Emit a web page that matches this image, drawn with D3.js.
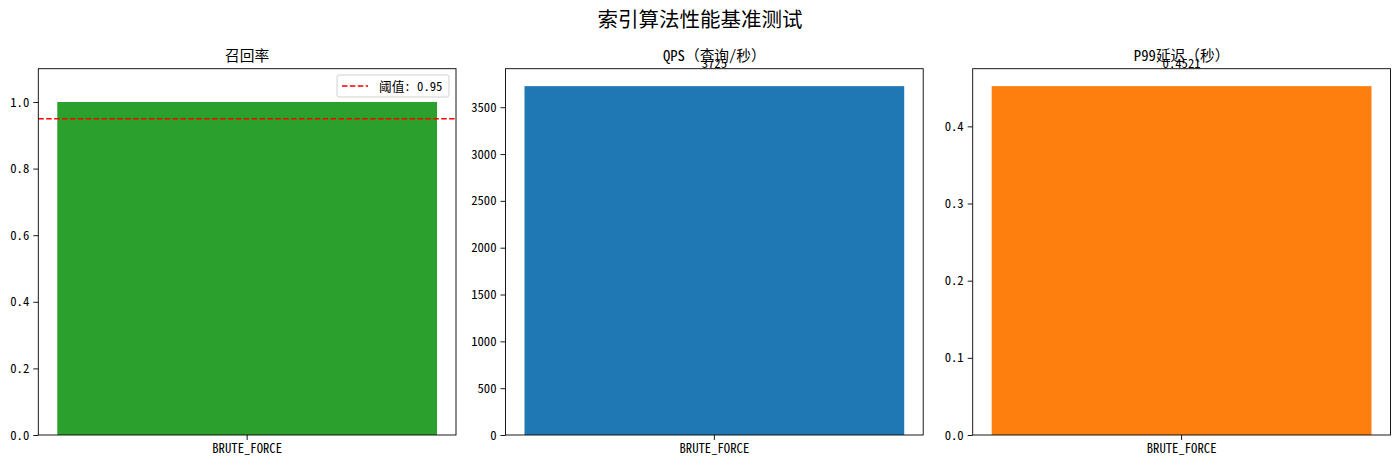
<!DOCTYPE html>
<html><head><meta charset="utf-8">
<script src="https://cdn.jsdelivr.net/npm/d3@7"></script>
<style>
body{margin:0;background:#fff;}
text{font-family:"Noto Sans Mono CJK SC","Noto Sans CJK SC","DejaVu Sans Mono",monospace;}
</style></head>
<body>
<svg id="c" width="1400" height="465"></svg>
<script>
const suptitle = "索引算法性能基准测试";
const categories = ["BRUTE_FORCE"];
const recallValues = [1.0];
const qpsValues = [3725];
const p99Values = [0.4521];
const threshold = 0.95;
const thresholdLabel = "阈值: 0.95";
const panelTitles = ["召回率", "QPS（查询/秒）", "P99延迟（秒）"];
const recallTicks = [0.0, 0.2, 0.4, 0.6, 0.8, 1.0];
const qpsTicks = [0, 500, 1000, 1500, 2000, 2500, 3000, 3500];
const p99Ticks = [0.0, 0.1, 0.2, 0.3, 0.4];

const svg = d3.select("#c");
const fontCJK = '"Noto Sans Mono CJK SC","Noto Sans CJK SC","DejaVu Sans Mono",monospace';

svg.append("text").attr("x", 700).attr("y", 27).attr("text-anchor", "middle")
  .attr("font-size", 20.5).attr("fill", "#000").text(suptitle);

const plotTop = 68.7, plotBottom = 435;
const panels = [
  {left: 38.3, right: 456, values: recallValues, ymax: 1.1, ticks: recallTicks, fmt: d3.format(".1f"), color: "#2ca02c", title: panelTitles[0], labels: false, thresh: true},
  {left: 505.5, right: 923.2, values: qpsValues, ymax: qpsValues[0] * 1.05, ticks: qpsTicks, fmt: d3.format("d"), color: "#1f77b4", title: panelTitles[1], labels: true, lfmt: d => String(d)},
  {left: 972.7, right: 1390.5, values: p99Values, ymax: p99Values[0] * 1.05, ticks: p99Ticks, fmt: d3.format(".1f"), color: "#ff7f0e", title: panelTitles[2], labels: true, lfmt: d => d.toFixed(4)}
];

panels.forEach(p => {
  const g = svg.append("g");
  const xl = d3.scaleLinear().domain([-0.44, 0.44]).range([p.left, p.right]);
  const x = d3.scaleBand().domain(categories).range([xl(-0.5), xl(0.5)]).paddingInner(0.2).paddingOuter(0.1);
  const y = d3.scaleLinear().domain([0, p.ymax]).range([plotBottom, plotTop]);

  g.selectAll("rect.bar").data(p.values).enter().append("rect")
    .attr("x", (d, i) => x(categories[i]))
    .attr("width", x.bandwidth())
    .attr("y", d => y(d))
    .attr("height", d => y(0) - y(d))
    .attr("fill", p.color);

  if (p.thresh) {
    g.append("line").attr("x1", p.left).attr("x2", p.right)
      .attr("y1", y(threshold)).attr("y2", y(threshold))
      .attr("stroke", "red").attr("stroke-width", 1.5).attr("stroke-dasharray", "5.5,2.4");
  }

  const ya = g.append("g").attr("transform", `translate(${p.left},0)`)
    .call(d3.axisLeft(y).tickValues(p.ticks).tickFormat(p.fmt).tickSize(5).tickPadding(4));
  ya.select(".domain").remove();
  ya.selectAll("text").attr("font-size", 12.7).attr("fill", "#000").style("font-family", fontCJK);
  ya.selectAll("line").attr("stroke", "#000").attr("stroke-width", 0.9);

  const xa = g.append("g").attr("transform", `translate(0,${plotBottom})`)
    .call(d3.axisBottom(x).tickSize(5).tickPadding(4));
  xa.select(".domain").remove();
  xa.selectAll("text").attr("font-size", 12.7).attr("fill", "#000").style("font-family", fontCJK);
  xa.selectAll("line").attr("stroke", "#000").attr("stroke-width", 0.9);

  g.append("rect").attr("x", p.left).attr("y", plotTop).attr("width", p.right - p.left).attr("height", plotBottom - plotTop)
    .attr("fill", "none").attr("stroke", "#000").attr("stroke-width", 0.9);

  g.append("text").attr("x", (p.left + p.right) / 2).attr("y", plotTop - 8).attr("text-anchor", "middle")
    .attr("font-size", 14.7).attr("fill", "#000").text(p.title);

  if (p.labels) {
    g.selectAll("text.vl").data(p.values).enter().append("text")
      .attr("x", (d, i) => x(categories[i]) + x.bandwidth() / 2)
      .attr("y", d => y(d * 1.05) - 0.5)
      .attr("text-anchor", "middle").attr("font-size", 12.7).attr("fill", "#000")
      .text(d => p.lfmt(d));
  }

  if (p.thresh) {
    const lg = g.append("g");
    lg.append("rect").attr("x", 337).attr("y", 75).attr("width", 112).attr("height", 22)
      .attr("rx", 2).attr("fill", "#fff").attr("fill-opacity", 0.8).attr("stroke", "#ccc").attr("stroke-width", 0.9);
    lg.append("line").attr("x1", 342).attr("x2", 368).attr("y1", 86).attr("y2", 86)
      .attr("stroke", "red").attr("stroke-width", 1.5).attr("stroke-dasharray", "5.5,2.4");
    lg.append("text").attr("x", 379).attr("y", 90.5).attr("font-size", 12.7).attr("fill", "#000").text(thresholdLabel);
  }
});
</script>
</body></html>
